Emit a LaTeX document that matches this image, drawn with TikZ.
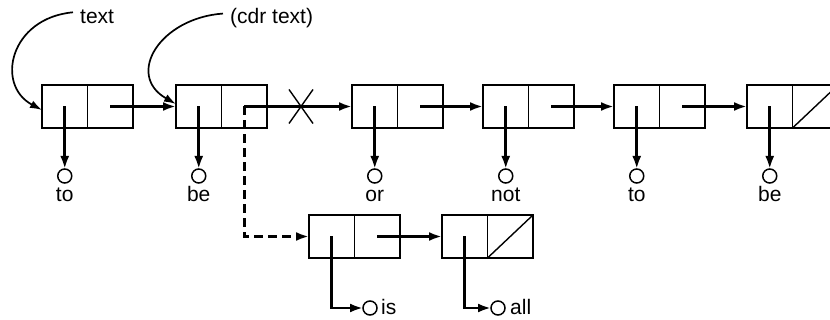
\documentclass[tikz,border=0pt]{standalone}
\usepackage{fontspec}
\setmainfont{Liberation Sans}
\usetikzlibrary{arrows.meta,calc}
\begin{document}
\begin{tikzpicture}[x=1pt,y=-1pt,
  every node/.style={font=\fontsize{21}{25}\selectfont},
  cell/.style={draw, line width=1.4pt, minimum width=45.5pt, minimum height=43pt, inner sep=0pt, outer sep=0pt},
  atom/.style={draw, circle, line width=1.5pt, minimum size=14pt, inner sep=0pt, outer sep=0pt},
  lbl/.style={anchor=base, inner sep=0pt},
  ptr/.style={line width=2.8pt, -{Latex[length=13pt,width=9pt]}},
  refarrow/.style={line width=1.7pt, -{Latex[length=12pt,width=8pt]}},
  cross/.style={line width=1.4pt}
]
\clip (0,0) rectangle (830,320);
\fill[white] (0,0) rectangle (830,320);

% row 1 cells
\foreach \i/\l in {1/42,2/176,3/352,4/483,5/614,6/747}{
  \node[cell] (a\i) at (\l+22.75,106.5) {};
  \node[cell] (d\i) at (\l+68.25,106.5) {};
}
% row 2 cells
\foreach \i/\l in {7/309,8/442}{
  \node[cell] (a\i) at (\l+22.75,236.5) {};
  \node[cell] (d\i) at (\l+68.25,236.5) {};
}
% nil diagonals
\draw[line width=1.4pt] (d6.south west) -- (d6.north east);
\draw[line width=1.4pt] (d8.south west) -- (d8.north east);

% atoms row 1
\foreach \i/\w in {1/to,2/be,3/or,4/not,5/to,6/be}{
  \path (a\i.center) ++(0,69.5) node[atom] (c\i) {};
  \path (a\i.center) ++(0,95.5) node[lbl] (w\i) {\w};
  \draw[ptr] (a\i.center) -- (c\i.north);
}
% atoms row 2
\node[atom] (c7) at (370,308) {};
\node[lbl, anchor=base west] (w7) at (381,315) {is};
\node[atom] (c8) at (498,308) {};
\node[lbl, anchor=base west] (w8) at (510,315) {all};
\draw[ptr] (a7.center) |- (c7.west);
\draw[ptr] (a8.center) |- (c8.west);

% cdr pointers
\draw[ptr] (d1.center) -- (a2.west);
\draw[ptr] (d2.center) -- (a3.west);
\draw[ptr] (d3.center) -- (a4.west);
\draw[ptr] (d4.center) -- (a5.west);
\draw[ptr] (d5.center) -- (a6.west);
\draw[ptr] (d7.center) -- (a8.west);

% cross
\coordinate (x) at (301,106.5);
\draw[cross] ($(x)+(-12,-17)$) -- ($(x)+(12,17)$);
\draw[cross] ($(x)+(-12,17)$) -- ($(x)+(12,-17)$);

% dashed new pointer
\draw[ptr, dash pattern=on 9pt off 5pt] (d2.center) |- (a7.west);

% variable labels
\node[lbl, anchor=base west] (t1) at (80,24) {text};
\node[lbl, anchor=base west] (t2) at (230,24) {(cdr text)};
\draw[refarrow] ($(t1.west)+(-7,-5)$) .. controls (10,18) and (-5,85) .. ($(a1.west)+(0,3.5)$);
\draw[refarrow] ($(t2.west)+(-7,-5)$) .. controls (160,18) and (125,75) .. ($(a2.west)+(0,-2.5)$);
\end{tikzpicture}
\end{document}
